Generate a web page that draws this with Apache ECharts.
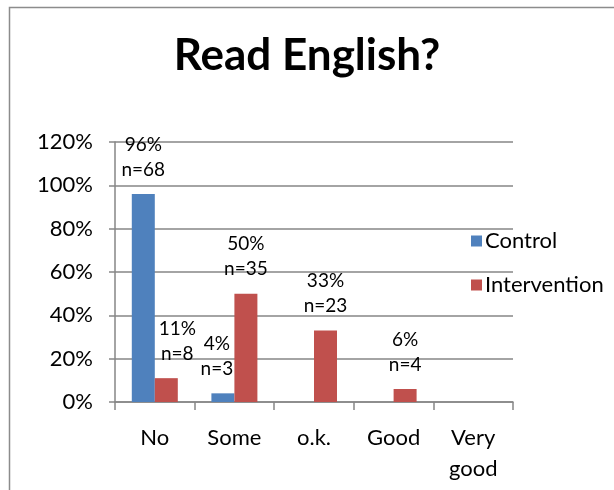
<!DOCTYPE html>
<html>
<head>
<meta charset="utf-8">
<script src="https://cdn.jsdelivr.net/npm/echarts@6/dist/echarts.min.js"></script>
<style>
  html, body { margin: 0; padding: 0; background: #fff; }
  #chart { width: 614px; height: 490px; }
</style>
</head>
<body>
<div id="chart"></div>
<script>
// categories and values (percent)
const categories = ['No', 'Some', 'o.k.', 'Good', 'Very\ngood']
const controlPct = [96, 4, 0, 0, 0]
const controlN = [68, 3, 0, 0, 0]
const interventionPct = [11, 50, 33, 6, 0]
const interventionN = [8, 35, 23, 4, 0]
const yTicks = [0, 20, 40, 60, 80, 100, 120]

const font = 'Lato, "Open Sans", sans-serif'

// Excel nudged a couple of labels sideways to avoid overlap
function makeData(values, shifts) {
  return values.map((v, i) => {
    if (!shifts[i]) return v
    return { value: v, label: { offset: [shifts[i], 0] } }
  })
}

function labelFor(nArr) {
  return {
    show: true,
    position: 'top',
    distance: 12,
    color: '#000',
    fontFamily: font,
    fontSize: 19,
    lineHeight: 25,
    formatter: p => p.value > 0 ? p.value + '%\nn=' + nArr[p.dataIndex] : ''
  }
}

const chart = echarts.init(document.getElementById('chart'))
chart.setOption({
  animation: false,
  backgroundColor: '#fff',
  graphic: [{
    type: 'rect',
    shape: { x: 9.5, y: 7.5, width: 640, height: 520 },
    style: { fill: 'none', stroke: '#8c8c8c', lineWidth: 1.5 },
    silent: true
  }],
  title: {
    text: 'Read English?',
    left: 'center',
    top: 29,
    textStyle: { fontFamily: font, fontWeight: 'bold', fontSize: 44, color: '#000' }
  },
  legend: {
    orient: 'vertical',
    left: 466,
    top: 225,
    itemGap: 22,
    itemWidth: 11,
    itemHeight: 11,
    icon: 'rect',
    textStyle: { fontFamily: font, fontSize: 22, color: '#000', padding: [0, 0, 0, -2] },
    data: ['Control', 'Intervention']
  },
  grid: { left: 115, right: 101, top: 142, bottom: 88 },
  xAxis: {
    type: 'category',
    data: categories,
    axisLine: { lineStyle: { color: '#868686', width: 1.5 } },
    axisTick: { show: true, length: 8, lineStyle: { color: '#868686', width: 1.5 } },
    axisLabel: { color: '#000', fontFamily: font, fontSize: 22, lineHeight: 31, margin: 20 }
  },
  yAxis: {
    type: 'value',
    min: 0,
    max: 120,
    interval: 20,
    axisLine: { show: true, lineStyle: { color: '#868686', width: 1.5 } },
    axisTick: { show: true, length: 6, lineStyle: { color: '#868686', width: 1.5 } },
    splitLine: { lineStyle: { color: '#868686', width: 1.5 } },
    axisLabel: {
      color: '#000', fontFamily: font, fontSize: 22, margin: 22,
      formatter: v => yTicks.includes(v) ? v + '%' : ''
    }
  },
  series: [
    {
      name: 'Control',
      type: 'bar',
      data: makeData(controlPct, { 1: -6 }),
      barWidth: 23,
      barGap: '0%',
      itemStyle: { color: '#4f81bd' },
      label: labelFor(controlN)
    },
    {
      name: 'Intervention',
      type: 'bar',
      data: makeData(interventionPct, { 0: 11 }),
      barWidth: 23,
      itemStyle: { color: '#c0504d' },
      label: labelFor(interventionN)
    }
  ]
})
</script>
</body>
</html>
